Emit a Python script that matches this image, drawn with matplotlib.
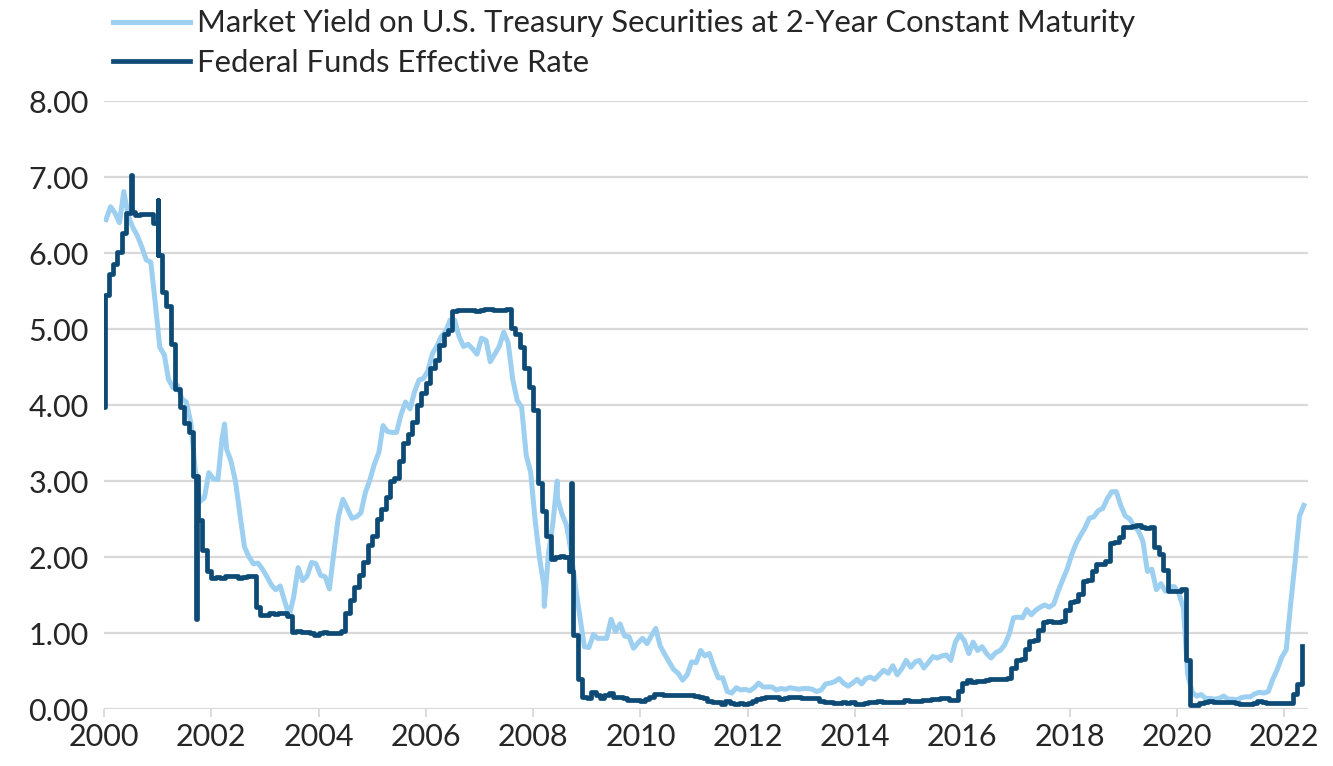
"""
Market Yield on 2-Year Treasuries vs Federal Funds Effective Rate, 2000-2022.
Monthly values read off the reference chart, plus a few daily spikes.
"""

import numpy as np
import pandas as pd
import matplotlib

matplotlib.use("Agg")
import matplotlib.pyplot as plt

# 2-year constant maturity yield, monthly (Jan 2000 .. May 2022)
treasury_2y = [
    6.44, 6.61, 6.53, 6.40, 6.81, 6.48, 6.34, 6.23, 6.08, 5.91, 5.88, 5.35,   # 2000
    4.76, 4.66, 4.34, 4.23, 4.26, 4.08, 4.04, 3.76, 3.12, 2.73, 2.78, 3.11,   # 2001
    3.03, 3.02, 3.56, 3.42, 3.26, 2.99, 2.56, 2.13, 2.00, 1.91, 1.92, 1.84,   # 2002
    1.74, 1.63, 1.57, 1.62, 1.42, 1.23, 1.47, 1.86, 1.69, 1.75, 1.93, 1.91,   # 2003
    1.76, 1.74, 1.58, 2.07, 2.53, 2.76, 2.64, 2.51, 2.53, 2.58, 2.85, 3.01,   # 2004
    3.22, 3.38, 3.73, 3.65, 3.64, 3.64, 3.87, 4.04, 3.95, 4.17, 4.33, 4.35,   # 2005
    4.45, 4.68, 4.77, 4.90, 4.97, 5.12, 5.12, 4.90, 4.77, 4.80, 4.74, 4.67,   # 2006
    4.88, 4.85, 4.57, 4.67, 4.77, 4.96, 4.82, 4.34, 4.06, 3.97, 3.34, 3.12,   # 2007
    2.48, 1.97, 1.62, 2.05, 2.45, 2.77, 2.57, 2.42, 2.08, 1.61, 1.21, 0.82,   # 2008
    0.81, 0.98, 0.93, 0.93, 0.93, 1.18, 1.02, 1.12, 0.96, 0.95, 0.80, 0.87,   # 2009
    0.93, 0.86, 0.96, 1.06, 0.83, 0.72, 0.62, 0.52, 0.47, 0.38, 0.45, 0.62,   # 2010
    0.61, 0.77, 0.70, 0.73, 0.56, 0.41, 0.41, 0.23, 0.21, 0.28, 0.25, 0.26,   # 2011
    0.24, 0.28, 0.34, 0.29, 0.29, 0.29, 0.25, 0.27, 0.26, 0.28, 0.27, 0.26,   # 2012
    0.27, 0.27, 0.26, 0.23, 0.25, 0.33, 0.34, 0.36, 0.40, 0.34, 0.30, 0.34,   # 2013
    0.39, 0.33, 0.40, 0.42, 0.39, 0.45, 0.51, 0.47, 0.57, 0.45, 0.53, 0.64,   # 2014
    0.55, 0.62, 0.64, 0.54, 0.61, 0.69, 0.67, 0.70, 0.71, 0.64, 0.88, 0.98,   # 2015
    0.90, 0.73, 0.88, 0.77, 0.82, 0.73, 0.67, 0.74, 0.77, 0.84, 0.98, 1.20,   # 2016
    1.21, 1.20, 1.31, 1.24, 1.30, 1.34, 1.37, 1.34, 1.38, 1.55, 1.70, 1.84,   # 2017
    2.03, 2.18, 2.28, 2.38, 2.51, 2.53, 2.61, 2.64, 2.77, 2.86, 2.86, 2.68,   # 2018
    2.54, 2.50, 2.41, 2.34, 2.21, 1.81, 1.84, 1.57, 1.65, 1.55, 1.61, 1.61,   # 2019
    1.52, 1.33, 0.45, 0.22, 0.17, 0.19, 0.14, 0.14, 0.13, 0.14, 0.17, 0.13,   # 2020
    0.13, 0.12, 0.15, 0.16, 0.16, 0.20, 0.22, 0.21, 0.23, 0.39, 0.52, 0.68,   # 2021
    0.78, 1.40, 1.91, 2.54, 2.68,                                             # 2022
]

# Federal funds effective rate, monthly (Jan 2000 .. May 2022)
fed_funds = [
    5.45, 5.73, 5.85, 6.02, 6.27, 6.53, 6.54, 6.50, 6.52, 6.51, 6.51, 6.40,   # 2000
    5.98, 5.49, 5.31, 4.80, 4.21, 3.97, 3.77, 3.65, 3.07, 2.49, 2.09, 1.82,   # 2001
    1.73, 1.74, 1.73, 1.75, 1.75, 1.75, 1.73, 1.74, 1.75, 1.75, 1.34, 1.24,   # 2002
    1.24, 1.26, 1.25, 1.26, 1.26, 1.22, 1.01, 1.03, 1.01, 1.01, 1.00, 0.98,   # 2003
    1.00, 1.01, 1.00, 1.00, 1.00, 1.03, 1.26, 1.43, 1.61, 1.76, 1.93, 2.16,   # 2004
    2.28, 2.50, 2.63, 2.79, 3.00, 3.04, 3.26, 3.50, 3.62, 3.78, 4.00, 4.16,   # 2005
    4.29, 4.49, 4.59, 4.79, 4.94, 4.99, 5.24, 5.25, 5.25, 5.25, 5.25, 5.24,   # 2006
    5.25, 5.26, 5.26, 5.25, 5.25, 5.25, 5.26, 5.02, 4.94, 4.76, 4.49, 4.24,   # 2007
    3.94, 2.98, 2.61, 2.28, 1.98, 2.00, 2.01, 2.00, 1.81, 0.97, 0.39, 0.16,   # 2008
    0.15, 0.22, 0.18, 0.15, 0.18, 0.21, 0.16, 0.16, 0.15, 0.12, 0.12, 0.12,   # 2009
    0.11, 0.13, 0.16, 0.20, 0.20, 0.18, 0.18, 0.19, 0.19, 0.19, 0.19, 0.18,   # 2010
    0.17, 0.16, 0.14, 0.10, 0.09, 0.09, 0.07, 0.10, 0.08, 0.07, 0.08, 0.07,   # 2011
    0.08, 0.10, 0.13, 0.14, 0.16, 0.16, 0.16, 0.13, 0.14, 0.16, 0.16, 0.16,   # 2012
    0.14, 0.15, 0.14, 0.15, 0.11, 0.09, 0.09, 0.08, 0.08, 0.09, 0.08, 0.09,   # 2013
    0.07, 0.07, 0.08, 0.09, 0.09, 0.10, 0.09, 0.09, 0.09, 0.09, 0.09, 0.12,   # 2014
    0.11, 0.11, 0.11, 0.12, 0.12, 0.13, 0.13, 0.14, 0.14, 0.12, 0.12, 0.24,   # 2015
    0.34, 0.38, 0.36, 0.37, 0.37, 0.38, 0.39, 0.40, 0.40, 0.40, 0.41, 0.54,   # 2016
    0.65, 0.66, 0.79, 0.90, 0.91, 1.04, 1.15, 1.16, 1.15, 1.15, 1.16, 1.30,   # 2017
    1.41, 1.42, 1.51, 1.69, 1.70, 1.82, 1.91, 1.91, 1.95, 2.19, 2.20, 2.27,   # 2018
    2.40, 2.40, 2.41, 2.42, 2.39, 2.38, 2.40, 2.13, 2.04, 1.83, 1.55, 1.55,   # 2019
    1.55, 1.58, 0.65, 0.05, 0.05, 0.08, 0.09, 0.10, 0.09, 0.09, 0.09, 0.09,   # 2020
    0.09, 0.08, 0.07, 0.07, 0.06, 0.08, 0.10, 0.09, 0.08, 0.08, 0.08, 0.08,   # 2021
    0.08, 0.08, 0.20, 0.33, 0.83,                                             # 2022
]

# single-day spikes visible in the daily fed funds series
ff_spike_dates = ["2000-01-01", "2000-07-03", "2001-01-02", "2001-09-19", "2008-09-16"]
ff_spike_values = [3.98, 7.03, 6.70, 1.19, 2.97]

# single-day extremes in the daily 2-year series
ty_spike_dates = ["2002-04-01", "2008-03-17", "2008-06-13"]
ty_spike_values = [3.75, 1.35, 3.00]

LIGHT = "#9DCFF0"
DARK = "#0D4A75"
GRID = "#D9D9D9"
TEXT = "#262626"

plt.rcParams["font.family"] = ["Lato", "DejaVu Sans"]


def _series(values, spike_dates, spike_values, offset_days=14, back=False):
    idx = pd.date_range("2000-01-01", periods=len(values), freq="MS") + pd.Timedelta(days=offset_days)
    s = pd.Series(values, index=idx)
    spikes = pd.to_datetime(spike_dates)
    parts = [s.drop(spikes, errors="ignore")]
    for d, v in zip(spikes, spike_values):
        parts.append(pd.Series([v], index=[d]))
        if back:
            # value goes back to the prevailing monthly level a few days later
            prev = s[s.index <= d]
            level = prev.iloc[-1] if len(prev) else s.iloc[0]
            parts.append(pd.Series([level], index=[d + pd.Timedelta(days=4)]))
    return pd.concat(parts).sort_index()


ty = _series(treasury_2y, ty_spike_dates, ty_spike_values)
ff = _series(fed_funds, ff_spike_dates, ff_spike_values, offset_days=0, back=True)

fig = plt.figure(figsize=(13.33, 7.66), dpi=100)
ax = fig.add_axes([0.078, 0.0744, 0.903, 0.7936])

ax.plot(ty.index, ty.values, color=LIGHT, lw=3.6,
        label="Market Yield on U.S. Treasury Securities at 2-Year Constant Maturity")
ax.plot(ff.index, ff.values, color=DARK, lw=3.4, drawstyle="steps-post",
        label="Federal Funds Effective Rate")

ax.set_ylim(0, 8)
yt = np.arange(0, 8.01, 1)
ax.set_yticks(yt)
ax.set_yticklabels([f"{v:.2f}" for v in yt])
ax.set_xlim(pd.Timestamp("2000-01-01"), pd.Timestamp("2022-06-10"))
years = list(range(2000, 2023, 2))
ax.set_xticks([pd.Timestamp(f"{y}-01-01") for y in years])
ax.set_xticklabels([str(y) for y in years])

ax.grid(True, axis="y", color=GRID, lw=1.6)
ax.set_axisbelow(True)
for sp in ax.spines.values():
    sp.set_visible(False)
ax.tick_params(axis="y", length=0, labelsize=22, pad=11, labelcolor=TEXT)
ax.tick_params(axis="x", length=6, width=1.3, color=GRID, labelsize=22, pad=4, labelcolor=TEXT)

fig.legend(loc="upper left", bbox_to_anchor=(0.066, 1.02), frameon=False, fontsize=22.3,
           handlelength=2.5, handletextpad=0.22, labelspacing=0.38, borderpad=0.3,
           labelcolor=TEXT)

fig.savefig("out.png", dpi=100)
plt.close(fig)
